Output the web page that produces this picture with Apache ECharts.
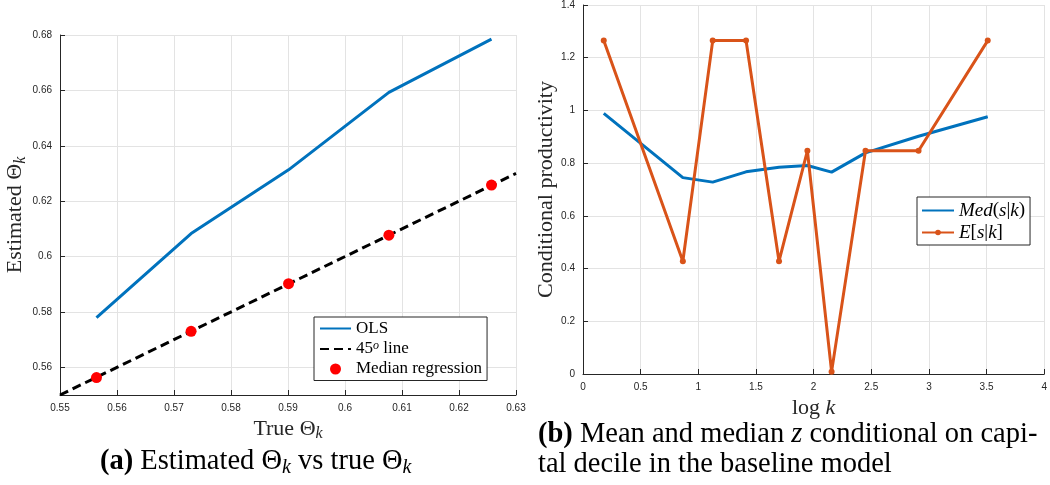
<!DOCTYPE html>
<html>
<head>
<meta charset="utf-8">
<script src="https://cdn.jsdelivr.net/npm/echarts@6/dist/echarts.min.js"></script>
<style>
html, body { margin: 0; padding: 0; background: #fff; }
#chart { width: 1050px; height: 485px; }
</style>
</head>
<body>
<div id="chart"></div>
<script>
// panel (a): estimated vs true Theta_k
const trueTheta = [0.5564, 0.5730, 0.5901, 0.6077, 0.6257];
const olsEstimate = [0.5779, 0.6083, 0.6313, 0.6593, 0.6785];
const medianEstimate = [0.5563, 0.5730, 0.5902, 0.6077, 0.6258];
const diagonal = [0.55, 0.63];
const thetaYTicks = [0.56, 0.58, 0.6, 0.62, 0.64, 0.66, 0.68];

// panel (b): conditional productivity by capital decile
const logK = [0.18, 0.866, 1.125, 1.414, 1.70, 1.946, 2.156, 2.45, 2.91, 3.51];
const medZ = [0.989, 0.745, 0.728, 0.767, 0.784, 0.791, 0.766, 0.839, 0.902, 0.976];
const meanZ = [1.265, 0.428, 1.265, 1.265, 0.428, 0.847, 0.009, 0.847, 0.847, 1.265];

const serif = "'Liberation Serif', serif";
const sans = "'Liberation Sans', sans-serif";
const ink = "#262626";
const gridColor = "#e3e3e3";
const blue = "#0072BD";
const orange = "#D95319";

function pairs(xs, ys) {
  return xs.map((x, i) => [x, ys[i]]);
}

const axisBase = {
  axisLine: { lineStyle: { color: ink, width: 1 } },
  axisTick: { inside: true, length: 5, lineStyle: { color: ink } },
  axisLabel: { color: ink, fontFamily: sans, fontSize: 10 },
  splitLine: { show: true, lineStyle: { color: gridColor, width: 1 } },
};

const nameRich = {
  n: { fontFamily: serif, fontSize: 22, color: ink, lineHeight: 26 },
  i: { fontFamily: serif, fontSize: 22, fontStyle: "italic", color: ink, lineHeight: 26 },
  s: { fontFamily: serif, fontSize: 16, fontStyle: "italic", color: ink, lineHeight: 14, verticalAlign: "bottom" },
};

function legendRich(size) {
  return {
    n: { fontFamily: serif, fontSize: size, color: "#000", lineHeight: 18 },
    i: { fontFamily: serif, fontSize: size, fontStyle: "italic", color: "#000", lineHeight: 18 },
    sup: { fontFamily: serif, fontSize: 12, fontStyle: "italic", color: "#000", lineHeight: 10, verticalAlign: "top" },
  };
}

const legendLabels = {
  "OLS": "{n|OLS}",
  "45 line": "{n|45}{sup|o}{n| line}",
  "Median regression": "{n|Median regression}",
  "Med": "{i|Med}{n|(}{i|s}{n||}{i|k}{n|)}",
  "E": "{i|E}{n|[}{i|s}{n||}{i|k}{n|]}",
};

const chart = echarts.init(document.getElementById("chart"));
chart.setOption({
  animation: false,
  backgroundColor: "#fff",
  grid: [
    { left: 60, top: 35, width: 456, height: 360 },
    { left: 583, top: 4, width: 463, height: 370 },
  ],
  xAxis: [
    Object.assign({}, axisBase, {
      gridIndex: 0, type: "value", min: 0.55, max: 0.63, interval: 0.01,
      name: "{n|True Θ}{s|k}", nameLocation: "middle", nameGap: 20,
      nameTextStyle: { rich: nameRich },
    }),
    Object.assign({}, axisBase, {
      gridIndex: 1, type: "value", min: 0, max: 4, interval: 0.5,
      name: "{n|log }{i|k}", nameLocation: "middle", nameGap: 21,
      nameTextStyle: { rich: nameRich },
    }),
  ],
  yAxis: [
    Object.assign({}, axisBase, {
      gridIndex: 0, type: "value", min: 0.55, max: 0.68,
      axisTick: { inside: true, length: 5, lineStyle: { color: ink }, customValues: thetaYTicks },
      axisLabel: { color: ink, fontFamily: sans, fontSize: 10, customValues: thetaYTicks },
      name: "{n|Estimated Θ}{s|k}", nameLocation: "middle", nameGap: 31,
      nameTextStyle: { rich: nameRich },
    }),
    Object.assign({}, axisBase, {
      gridIndex: 1, type: "value", min: 0, max: 1.4, interval: 0.2,
      name: "{n|Conditional productivity}", nameLocation: "middle", nameGap: 24,
      nameTextStyle: { rich: nameRich },
    }),
  ],
  legend: [
    {
      data: [
        { name: "OLS", itemStyle: { opacity: 0 } },
        { name: "45 line", itemStyle: { opacity: 0 } },
        { name: "Median regression" },
      ],
      orient: "vertical", left: 314, top: 317,
      itemWidth: 31, itemHeight: 11, itemGap: 3,
      padding: [3, 5, 3, 5],
      backgroundColor: "#fff", borderColor: ink, borderWidth: 1,
      selectedMode: false,
      formatter: (name) => legendLabels[name],
      textStyle: { rich: legendRich(17) },
    },
    {
      data: [
        { name: "Med", itemStyle: { opacity: 0 } },
        { name: "E" },
      ],
      orient: "vertical", left: 917, top: 197,
      itemWidth: 32, itemHeight: 7, itemGap: 3,
      padding: [4, 5, 3, 4],
      backgroundColor: "#fff", borderColor: ink, borderWidth: 1,
      selectedMode: false,
      formatter: (name) => legendLabels[name],
      textStyle: { rich: legendRich(19) },
    },
  ],
  series: [
    {
      name: "OLS", type: "line", xAxisIndex: 0, yAxisIndex: 0,
      data: pairs(trueTheta, olsEstimate), symbol: "none",
      lineStyle: { color: blue, width: 3 }, itemStyle: { color: blue },
    },
    {
      name: "45 line", type: "line", xAxisIndex: 0, yAxisIndex: 0,
      data: pairs(diagonal, diagonal), symbol: "none",
      lineStyle: { color: "#000", width: 3, type: [9, 5] }, itemStyle: { color: "#000" },
    },
    {
      name: "Median regression", type: "scatter", xAxisIndex: 0, yAxisIndex: 0,
      data: pairs(trueTheta, medianEstimate), symbol: "circle", symbolSize: 11,
      itemStyle: { color: "#ff0000", opacity: 1 }, z: 5,
    },
    {
      name: "Med", type: "line", xAxisIndex: 1, yAxisIndex: 1,
      data: pairs(logK, medZ), symbol: "none",
      lineStyle: { color: blue, width: 3 }, itemStyle: { color: blue },
    },
    {
      name: "E", type: "line", xAxisIndex: 1, yAxisIndex: 1,
      data: pairs(logK, meanZ), symbol: "circle", symbolSize: 6, showSymbol: true,
      lineStyle: { color: orange, width: 3 }, itemStyle: { color: orange },
    },
  ],
  graphic: [
    {
      type: "text", left: 100, top: 447,
      style: {
        text: "{b|(a)}{n| Estimated Θ}{s|k}{n| vs true Θ}{s|k}",
        rich: {
          b: { fontFamily: serif, fontSize: 28.5, fontWeight: "bold", fill: "#000", lineHeight: 32 },
          n: { fontFamily: serif, fontSize: 28.5, fill: "#000", lineHeight: 32 },
          s: { fontFamily: serif, fontSize: 20, fontStyle: "italic", fill: "#000", lineHeight: 17, verticalAlign: "bottom" },
        },
      },
    },
    {
      type: "text", left: 538, top: 420,
      style: {
        text: "{b|(b)}{n| Mean and median }{i|z}{n| conditional on capi-}\n{n|tal decile in the baseline model}",
        rich: {
          b: { fontFamily: serif, fontSize: 28.5, fontWeight: "bold", fill: "#000", lineHeight: 30 },
          n: { fontFamily: serif, fontSize: 28.5, fill: "#000", lineHeight: 30 },
          i: { fontFamily: serif, fontSize: 28.5, fontStyle: "italic", fill: "#000", lineHeight: 30 },
        },
      },
    },
  ],
});
</script>
</body>
</html>
